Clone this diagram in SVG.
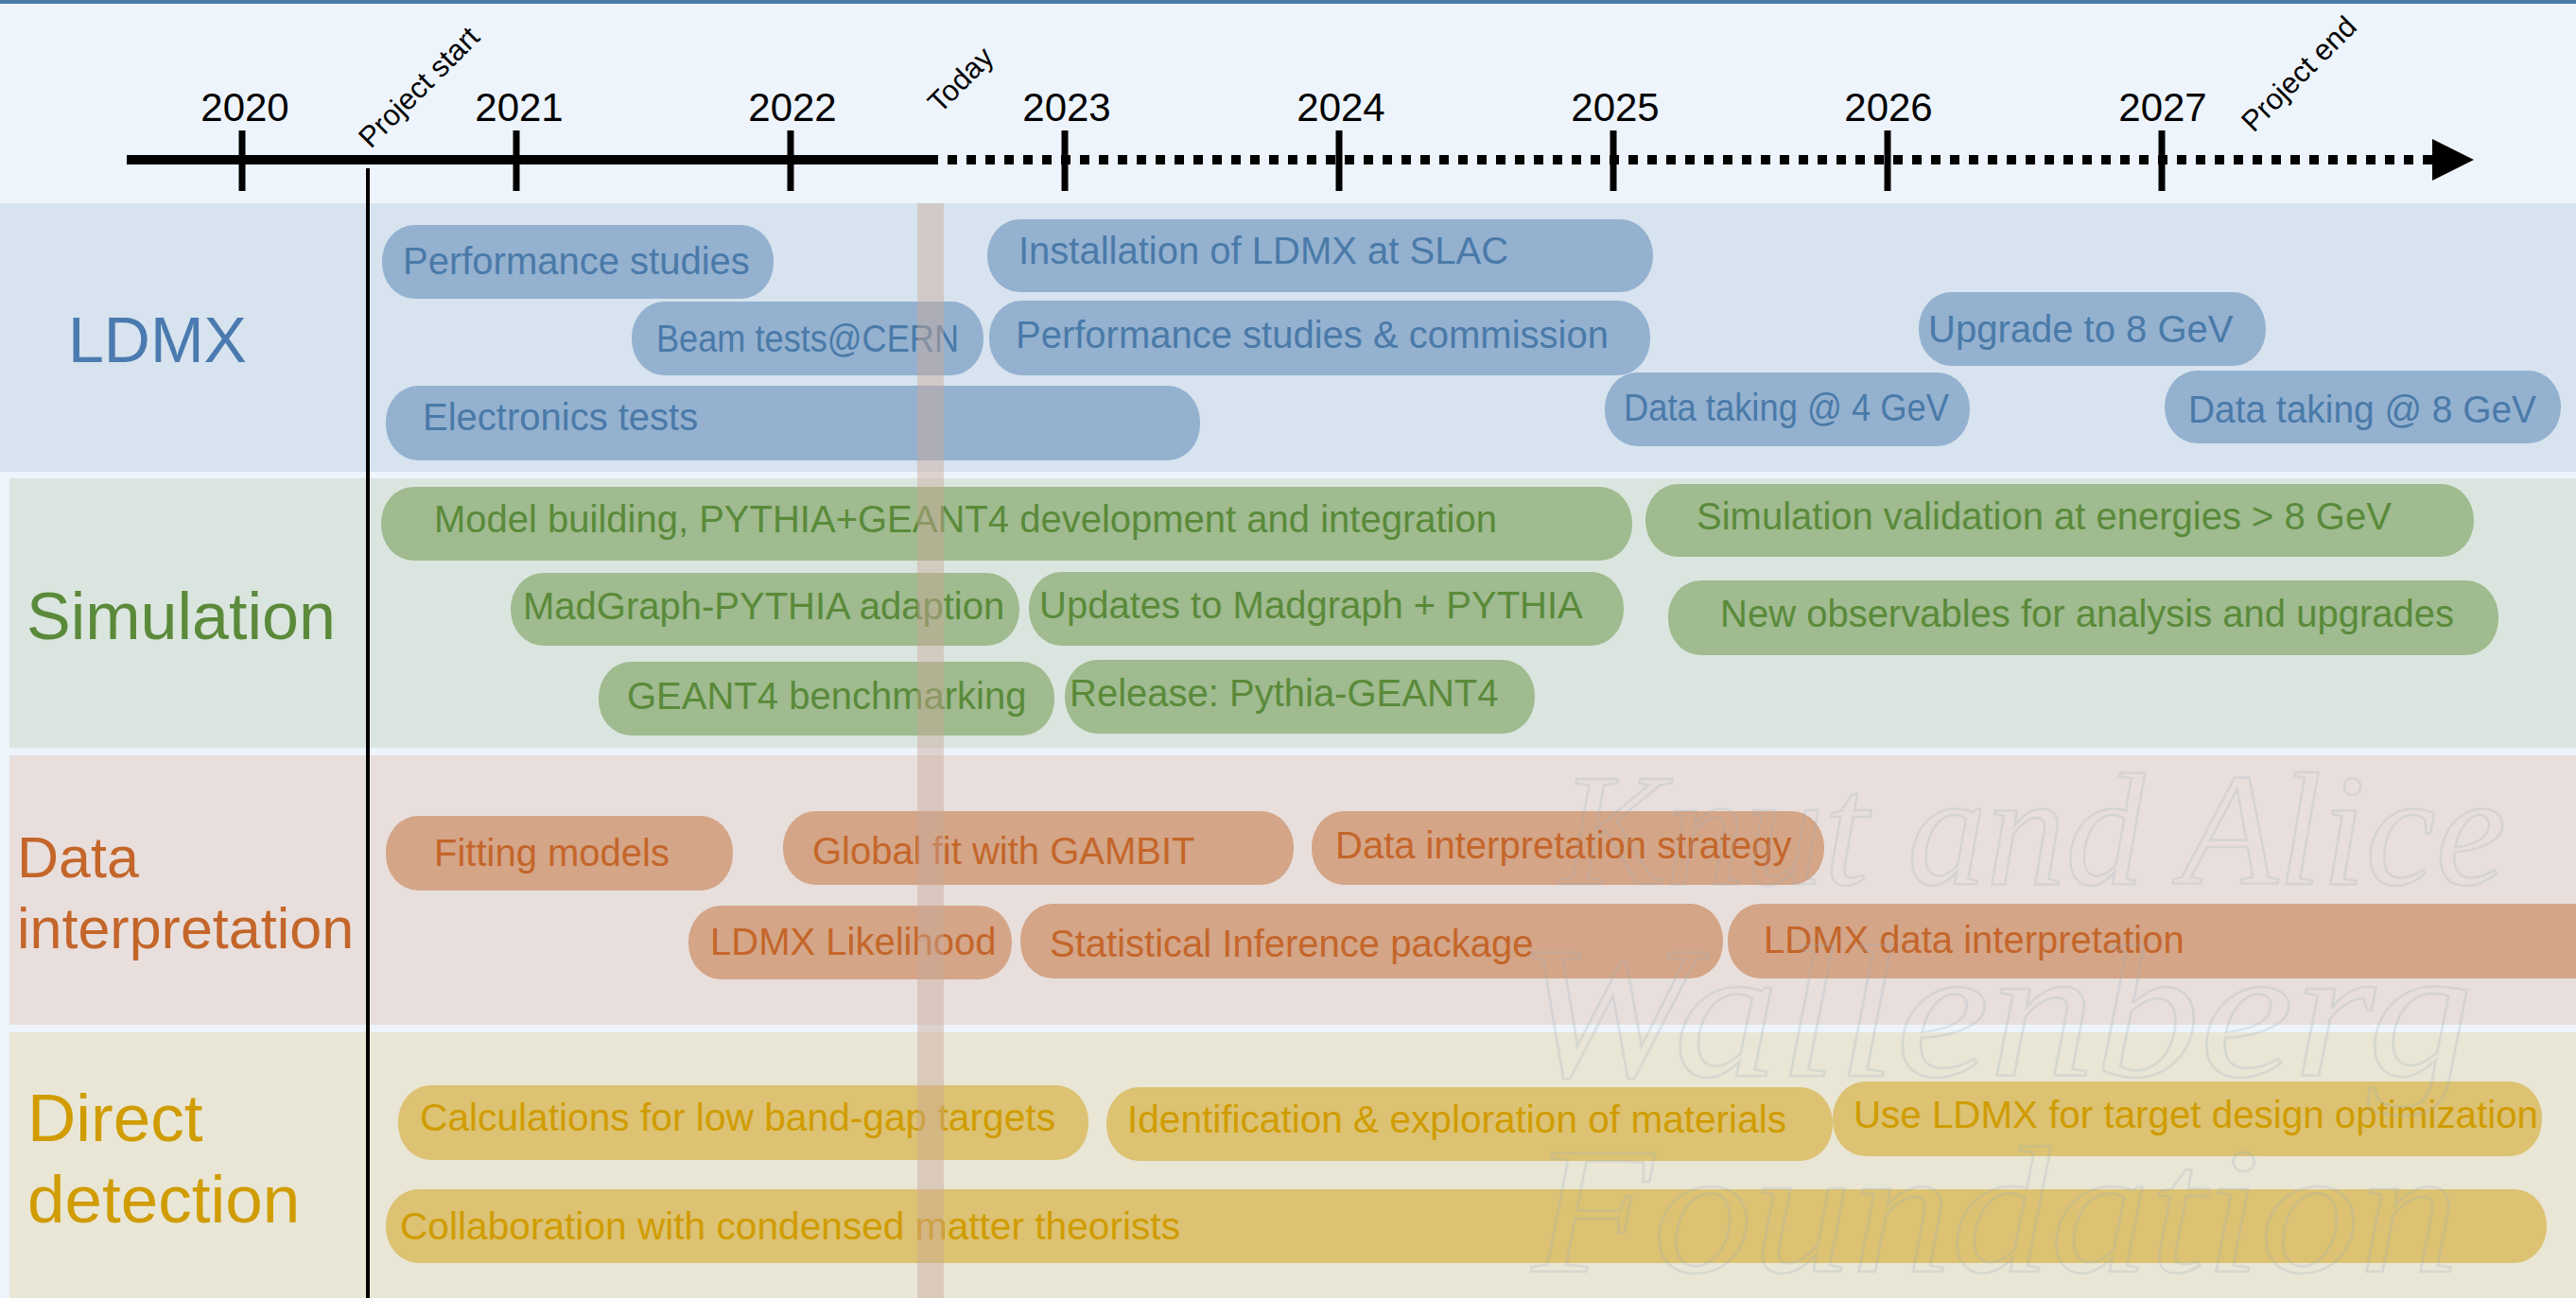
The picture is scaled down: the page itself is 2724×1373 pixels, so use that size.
<svg xmlns="http://www.w3.org/2000/svg" width="2724" height="1373" viewBox="0 0 2724 1373">
<style>
.yr{font-family:"Liberation Sans",Arial,sans-serif;font-size:42px;fill:#000;text-anchor:middle}
.mk{font-family:"Liberation Sans",Arial,sans-serif;font-size:31px;fill:#000}
.lane{font-family:"Liberation Sans",Arial,sans-serif}
.t{font-family:"Liberation Sans",Arial,sans-serif;font-size:40px}
.bl rect{fill:#94b1d0}.bl text{fill:#4a7aa8}
.gr rect{fill:#9fbb8f}.gr text{fill:#5a8a3a}
.or rect{fill:#d4a587}.or text{fill:#c4662a}
.ye rect{fill:#dcc272}.ye text{fill:#d09c00}
.wm{font-family:"Liberation Serif",serif;font-style:italic;fill:none;stroke:#9fb0bb;stroke-width:2.5;opacity:0.25}
</style>
<rect x="0" y="0" width="2724" height="1373" fill="#eef4fb"/>
<rect x="0" y="0" width="2724" height="4" fill="#4a78a8"/>
<g id="lanes">
<rect x="0" y="215" width="2724" height="284" fill="#d7e3ee"/>
<rect x="10" y="506" width="2714" height="285" fill="#dbe5df"/>
<rect x="10" y="799" width="2714" height="285" fill="#e8dfdd"/>
<rect x="10" y="1092" width="2714" height="281" fill="#e9e6d6"/>
</g>
<g id="lane-labels">
<text class="lane" x="72" y="383" fill="#4a7aaf" font-size="68">LDMX</text>
<text class="lane" x="28" y="676" fill="#5a8a3a" font-size="70">Simulation</text>
<text class="lane" x="18" y="928" fill="#c4662a" font-size="61">Data</text>
<text class="lane" x="18" y="1003" fill="#c4662a" font-size="61">interpretation</text>
<text class="lane" x="29" y="1207" fill="#d09c00" font-size="71">Direct</text>
<text class="lane" x="29" y="1293" fill="#d09c00" font-size="71">detection</text>
</g>
<g id="ldmx" class="bl">
<g id="n-perf"><rect x="404" y="238" width="414" height="78" rx="34" ry="38"/><text class="t" x="426" y="290">Performance studies</text></g>
<g id="n-beam"><rect x="668" y="319" width="372" height="78" rx="34" ry="38"/><text class="t" x="694" y="372" textLength="320" lengthAdjust="spacingAndGlyphs">Beam tests@CERN</text></g>
<g id="n-elec"><rect x="408" y="408" width="861" height="79" rx="34" ry="38"/><text class="t" x="447" y="455">Electronics tests</text></g>
<g id="n-inst"><rect x="1044" y="232" width="704" height="77" rx="34" ry="38"/><text class="t" x="1077" y="279">Installation of LDMX at SLAC</text></g>
<g id="n-perfc"><rect x="1046" y="318" width="699" height="79" rx="34" ry="38"/><text class="t" x="1074" y="368">Performance studies &amp; commission</text></g>
<g id="n-upg"><rect x="2029" y="309" width="367" height="78" rx="34" ry="38"/><text class="t" x="2039" y="362">Upgrade to 8 GeV</text></g>
<g id="n-dt4"><rect x="1697" y="394" width="386" height="78" rx="34" ry="38"/><text class="t" x="1717" y="445" textLength="344" lengthAdjust="spacingAndGlyphs">Data taking @ 4 GeV</text></g>
<g id="n-dt8"><rect x="2289" y="392" width="419" height="77" rx="34" ry="38"/><text class="t" x="2314" y="447" textLength="368" lengthAdjust="spacingAndGlyphs">Data taking @ 8 GeV</text></g>
</g>
<g id="sim" class="gr">
<g id="n-model"><rect x="403" y="515" width="1323" height="78" rx="34" ry="38"/><text class="t" x="459" y="563">Model building, PYTHIA+GEANT4 development and integration</text></g>
<g id="n-mad"><rect x="540" y="606" width="538" height="77" rx="34" ry="38"/><text class="t" x="553" y="655">MadGraph-PYTHIA adaption</text></g>
<g id="n-geant"><rect x="633" y="700" width="482" height="78" rx="34" ry="38"/><text class="t" x="663" y="750">GEANT4 benchmarking</text></g>
<g id="n-val"><rect x="1740" y="512" width="876" height="77" rx="34" ry="38"/><text class="t" x="1794" y="560">Simulation validation at energies &gt; 8 GeV</text></g>
<g id="n-upd"><rect x="1088" y="605" width="629" height="78" rx="34" ry="38"/><text class="t" x="1099" y="654">Updates to Madgraph + PYTHIA</text></g>
<g id="n-obs"><rect x="1764" y="614" width="878" height="79" rx="34" ry="38"/><text class="t" x="1819" y="663">New observables for analysis and upgrades</text></g>
<g id="n-rel"><rect x="1126" y="698" width="497" height="78" rx="34" ry="38"/><text class="t" x="1131" y="747">Release: Pythia-GEANT4</text></g>
</g>
<g id="data" class="or">
<g id="n-fit"><rect x="408" y="863" width="367" height="79" rx="34" ry="38"/><text class="t" x="459" y="916">Fitting models</text></g>
<g id="n-gambit"><rect x="828" y="858" width="540" height="78" rx="34" ry="38"/><text class="t" x="859" y="914">Global fit with GAMBIT</text></g>
<g id="n-lik"><rect x="728" y="958" width="342" height="78" rx="34" ry="38"/><text class="t" x="751" y="1010">LDMX Likelihood</text></g>
<g id="n-strat"><rect x="1387" y="858" width="542" height="78" rx="34" ry="38"/><text class="t" x="1412" y="908">Data interpretation strategy</text></g>
<g id="n-stat"><rect x="1079" y="956" width="743" height="79" rx="34" ry="38"/><text class="t" x="1110" y="1012">Statistical Inference package</text></g>
<g id="n-ldi"><rect x="1827" y="956" width="930" height="79" rx="34" ry="38"/><text class="t" x="1865" y="1008">LDMX data interpretation</text></g>
</g>
<g id="direct" class="ye">
<g id="n-calc"><rect x="421" y="1148" width="730" height="79" rx="34" ry="38"/><text class="t" x="444" y="1196" textLength="672" lengthAdjust="spacingAndGlyphs">Calculations for low band-gap targets</text></g>
<g id="n-collab"><rect x="408" y="1258" width="2285" height="78" rx="34" ry="38"/><text class="t" x="423" y="1311" textLength="825" lengthAdjust="spacingAndGlyphs">Collaboration with condensed matter theorists</text></g>
<g id="n-ident"><rect x="1170" y="1150" width="768" height="78" rx="34" ry="38"/><text class="t" x="1192" y="1198" textLength="697" lengthAdjust="spacingAndGlyphs">Identification &amp; exploration of materials</text></g>
<g id="n-use"><rect x="1938" y="1144" width="750" height="79" rx="34" ry="38"/><text class="t" x="1960" y="1193" textLength="724" lengthAdjust="spacingAndGlyphs">Use LDMX for target design optimization</text></g>
</g>
<rect id="today-band" x="970" y="215" width="28" height="1158" fill="#c9a89a" opacity="0.45"/>
<g id="watermark">
<text class="wm" x="1650" y="935" font-size="170" textLength="1000" lengthAdjust="spacingAndGlyphs">Knut and Alice</text>
<text class="wm" x="1605" y="1138" font-size="200" textLength="1010" lengthAdjust="spacingAndGlyphs">Wallenberg</text>
<text class="wm" x="1620" y="1345" font-size="190" textLength="980" lengthAdjust="spacingAndGlyphs">Foundation</text>
</g>
<g id="connectors">
<line x1="134" y1="169" x2="982" y2="169" stroke="#000" stroke-width="10"/>
<line x1="982" y1="169" x2="2574" y2="169" stroke="#000" stroke-width="10" stroke-dasharray="10 10"/>
<polygon points="2572,147 2616,169 2572,191" fill="#000"/>
<g stroke="#000" stroke-width="7">
<line x1="256" y1="138" x2="256" y2="202"/>
<line x1="546" y1="138" x2="546" y2="202"/>
<line x1="836" y1="138" x2="836" y2="202"/>
<line x1="1126" y1="138" x2="1126" y2="202"/>
<line x1="1416" y1="138" x2="1416" y2="202"/>
<line x1="1706" y1="138" x2="1706" y2="202"/>
<line x1="1996" y1="138" x2="1996" y2="202"/>
<line x1="2286" y1="138" x2="2286" y2="202"/>
</g>
<line x1="389" y1="178" x2="389" y2="1373" stroke="#000" stroke-width="4"/>
</g>
<g id="years">
<text class="yr" x="259" y="128">2020</text>
<text class="yr" x="549" y="128">2021</text>
<text class="yr" x="838" y="128">2022</text>
<text class="yr" x="1128" y="128">2023</text>
<text class="yr" x="1418" y="128">2024</text>
<text class="yr" x="1708" y="128">2025</text>
<text class="yr" x="1997" y="128">2026</text>
<text class="yr" x="2287" y="128">2027</text>
</g>
<g id="markers">
<text class="mk" transform="translate(392,158) rotate(-45)">Project start</text>
<text class="mk" transform="translate(994,121) rotate(-45)">Today</text>
<text class="mk" transform="translate(2383,141) rotate(-45)">Project end</text>
</g>
</svg>
